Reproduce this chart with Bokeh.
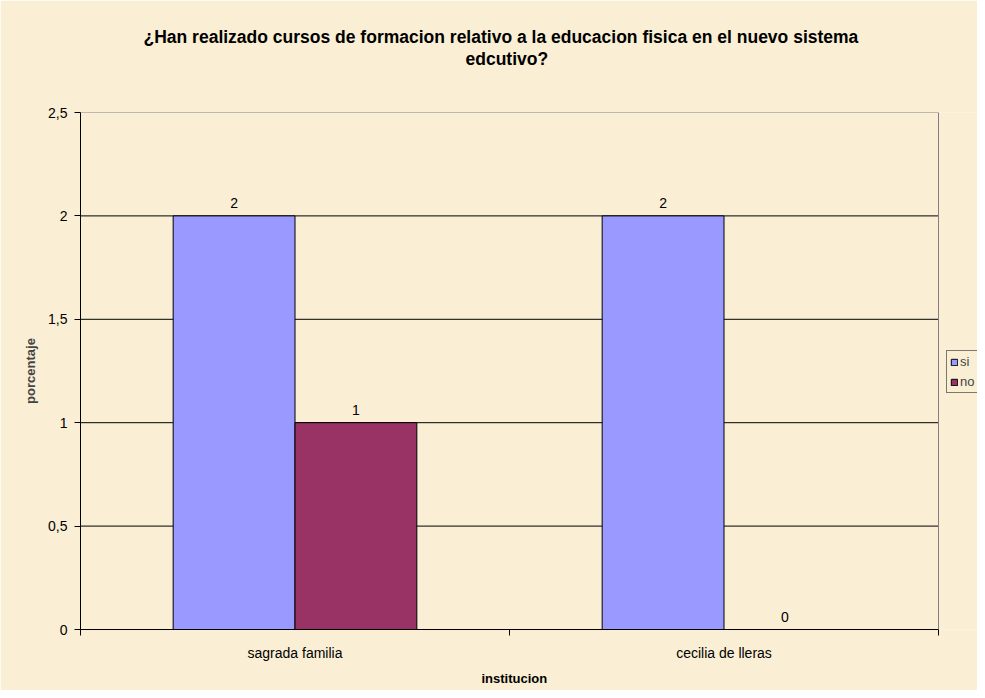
import numpy as np
from bokeh.plotting import figure
from bokeh.models import (ColumnDataSource, Range1d, FixedTicker, CustomJSTickFormatter,
                          Legend, LegendItem, Title, LinearAxis)
from bokeh.core.properties import value
from bokeh.embed import file_html
from bokeh.resources import INLINE

# ---- data ----
instituciones = ["sagrada familia", "cecilia de lleras"]
si_vals = [2, 2]
no_vals = [1, 0]
series_names = ["si", "no"]
y_ticks = [0, 0.5, 1, 1.5, 2, 2.5]
title_lines = ["¿Han realizado cursos de formacion relativo a la educacion fisica en el nuevo sistema",
               "edcutivo?"]
x_title = "institucion"
y_title = "porcentaje"

BG = "#FAEFD4"
FONT = "Liberation Sans"

# layout (pixels)
W, H = 977, 690
LEFT, TOP, BOTTOM = 80, 112, 60
PLOT_RIGHT = 938          # right edge of the drawn plot area
n = len(instituciones)
x_end = n * (W - LEFT) / (PLOT_RIGHT - LEFT)   # frame runs to figure edge so the legend can sit outside plot box

idx = np.arange(n) + 0.5
bw = 0.284

src = ColumnDataSource(dict(
    x_si=idx - bw / 2, x_no=idx + bw / 2,
    si=si_vals, no=no_vals,
    si_lbl=[str(v) for v in si_vals], no_lbl=[str(v) for v in no_vals],
))

p = figure(width=W, height=H, output_backend="svg", toolbar_location=None,
           x_range=Range1d(0, x_end), y_range=Range1d(y_ticks[0], y_ticks[-1]),
           min_border_left=LEFT, min_border_right=0, min_border_top=TOP, min_border_bottom=BOTTOM,
           background_fill_color=BG, border_fill_color=BG, outline_line_color=None,
           title=None)
p.xgrid.visible = False
p.ygrid.visible = False

# horizontal grid lines and plot-box border, limited to the category span
inner = [t for t in y_ticks if y_ticks[0] < t < y_ticks[-1]]
p.segment(x0=[0] * len(inner), x1=[n] * len(inner), y0=inner, y1=inner, line_color="black", line_width=1)
p.segment(x0=[0, n], x1=[n, n], y0=[y_ticks[-1], y_ticks[0]], y1=[y_ticks[-1], y_ticks[-1]],
          line_color="#808080", line_width=1)

# bars
r_si = p.vbar(x="x_si", top="si", width=bw, source=src, fill_color="#9999FF", line_color="black", line_width=1)
r_no = p.vbar(x="x_no", top="no", width=bw, source=src, fill_color="#993366", line_color="black", line_width=1)

# value labels
for xc, yc, lc in [("x_si", "si", "si_lbl"), ("x_no", "no", "no_lbl")]:
    p.text(x=xc, y=yc, text=lc, source=src, text_align="center", text_baseline="bottom",
           y_offset=-8, text_font_size="14px", text_font=value(FONT), text_color="black")

# axes
xa = p.xaxis[0]
xa.bounds = (0, n)
xa.ticker = FixedTicker(ticks=list(idx), minor_ticks=list(range(n + 1)))
xa.major_label_overrides = {float(v): c for v, c in zip(idx, instituciones)}
xa.major_tick_line_color = None
xa.minor_tick_out = 6
xa.minor_tick_in = 0
xa.minor_tick_line_color = "black"
xa.axis_line_color = "black"
xa.major_label_text_font = FONT
xa.major_label_text_font_size = "14px"
xa.major_label_text_color = "black"
xa.major_label_standoff = 9

ya = p.yaxis[0]
ya.ticker = FixedTicker(ticks=y_ticks)
ya.formatter = CustomJSTickFormatter(code="return tick.toString().replace('.', ',');")
ya.major_tick_out = 6
ya.major_tick_in = 0
ya.minor_tick_line_color = None
ya.axis_line_color = "black"
ya.major_tick_line_color = "black"
ya.major_label_text_font = FONT
ya.major_label_text_font_size = "14px"
ya.major_label_text_color = "black"
ya.major_label_standoff = 7
ya.axis_label = y_title
ya.axis_label_text_font = FONT
ya.axis_label_text_font_style = "bold"
ya.axis_label_text_font_size = "13px"
ya.axis_label_standoff = 7

# x-axis title, centred under the plot box (not under the wider frame)
xt = Title(text=x_title, align="left", offset=401, text_font=FONT, text_font_style="bold",
           text_font_size="13px", text_color="black", standoff=10)
p.add_layout(xt, "below")

# invisible spacer (an unlabeled, transparent axis) between the frame and the title
spacer = LinearAxis(ticker=FixedTicker(ticks=[1], minor_ticks=[]), axis_line_color=None,
                    major_tick_out=44, major_tick_in=0, major_tick_line_alpha=0,
                    minor_tick_line_color=None, major_label_standoff=0,
                    formatter=CustomJSTickFormatter(code="return '';"))
p.add_layout(spacer, "above")

t2 = Title(text=title_lines[1], align="left", offset=385, text_font=FONT, text_font_style="bold",
           text_font_size="17.5px", text_color="black", standoff=0)
t1 = Title(text=title_lines[0], align="left", offset=63, text_font=FONT, text_font_style="bold",
           text_font_size="17.5px", text_color="black", standoff=0)
p.add_layout(t2, "above")
p.add_layout(t1, "above")

# legend (right of the plot box)
legend = Legend(items=[LegendItem(label=series_names[0], renderers=[r_si]),
                       LegendItem(label=series_names[1], renderers=[r_no])],
                location=(PLOT_RIGHT - LEFT + 8, 236), orientation="vertical",
                label_text_font=FONT, label_text_font_size="13px",
                glyph_width=8, glyph_height=8, label_standoff=2, spacing=5,
                padding=3, margin=0, label_height=14, label_width=10,
                border_line_color="black", border_line_width=1,
                background_fill_color=BG, background_fill_alpha=1)
p.add_layout(legend, "center")

open("out.html", "w").write(file_html(p, INLINE))
